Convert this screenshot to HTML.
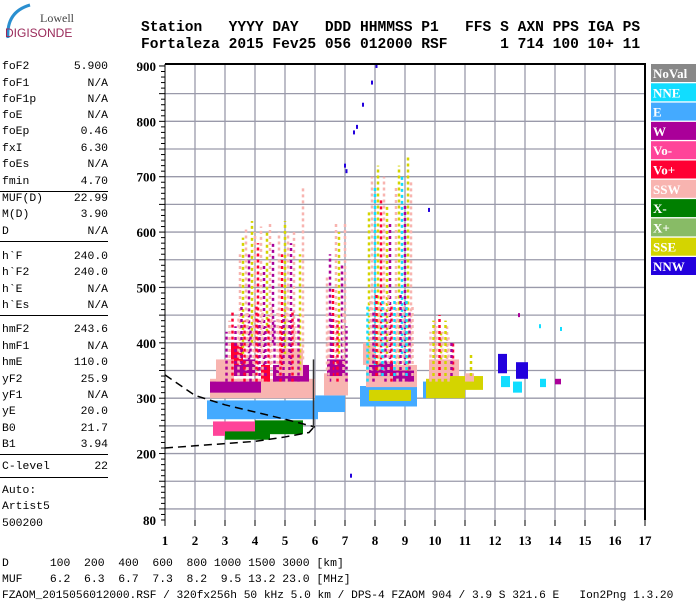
<!DOCTYPE html>
<html><head><meta charset="utf-8"><style>
html,body{margin:0;padding:0;background:#fff;}
body{width:700px;height:600px;position:relative;overflow:hidden;}
.mono{font-family:"Liberation Mono",monospace;font-size:11.4px;line-height:13px;color:#000;white-space:pre;position:absolute;}
.hdr{font-family:"Liberation Mono",monospace;font-weight:bold;font-size:14.6px;white-space:pre;position:absolute;left:141px;}
</style></head><body>
<svg width="140" height="60" style="position:absolute;left:0;top:0">
<path d="M8 38 Q6 12 30 5" stroke="#2a8fd0" stroke-width="3" fill="none"/>
<text x="40" y="22" font-family="Liberation Serif,serif" font-size="12" fill="#444">Lowell</text>
<text x="5" y="37" font-family="Liberation Sans,sans-serif" font-size="12" fill="#9a2a5a">DIGISONDE</text>
</svg>
<div class="hdr" style="top:20px">Station   YYYY DAY   DDD HHMMSS P1   FFS S AXN PPS IGA PS</div>
<div class="hdr" style="top:37px">Fortaleza 2015 Fev25 056 012000 RSF      1 714 100 10+ 11</div>
<div id="side"></div>
<div class="mono" style="left:2px;top:558px">D      100  200  400  600  800 1000 1500 3000 [km]</div>
<div class="mono" style="left:2px;top:574px">MUF    6.2  6.3  6.7  7.3  8.2  9.5 13.2 23.0 [MHz]</div>
<div class="mono" style="left:2px;top:590px;font-size:11.2px">FZAOM_2015056012000.RSF / 320fx256h 50 kHz 5.0 km / DPS-4 FZAOM 904 / 3.9 S 321.6 E   Ion2Png 1.3.20</div>
<svg id="chart" width="700" height="600" style="position:absolute;left:0;top:0"></svg>
<script>
const sideLabels=["foF2","foF1","foF1p","foE","foEp","fxI","foEs","fmin","MUF(D)","M(D)","D","h`F","h`F2","h`E","h`Es","hmF2","hmF1","hmE","yF2","yF1","yE","B0","B1","C-level"];
const sideValues=["5.900","N/A","N/A","N/A","0.46","6.30","N/A","4.70","22.99","3.90","N/A","240.0","240.0","N/A","N/A","243.6","N/A","110.0","25.9","N/A","20.0","21.7","3.94","22"];
const seriesNames=["NoVal","NNE","E","W","Vo-","Vo+","SSW","X-","X+","SSE","NNW"];
const seriesColors=["#888888","#11ddff","#44aaff","#aa0099","#ff4499","#ff0033","#f8b4b0","#007f00","#88bb66","#d4d400","#2200dd"];
const xTicks=[1,2,3,4,5,6,7,8,9,10,11,12,13,14,15,16,17];
const yTicks=[900,800,700,600,500,400,300,200,80];
// dense echo blocks
const blkF0=[2.4,6.0,7.5,9.6,2.6,4.0,3.0,2.5,6.3,7.7,9.8,2.5,3.0,4.6,6.4,7.8,8.6,9.7,10.5,7.8,3.2,4.2,12.2,12.6,12.1,12.7,11.0,13.5,14.0,2.7,4.8,7.6];
const blkF1=[6.1,7.0,9.4,10.6,4.0,5.6,4.5,6.0,7.1,9.4,10.8,4.2,4.0,5.8,7.0,8.6,9.3,11.0,11.6,9.2,3.6,4.5,12.5,12.9,12.4,13.1,11.3,13.7,14.2,3.3,5.6,8.0];
const blkH0=[262,275,285,300,232,235,225,300,305,320,320,310,340,330,340,340,330,300,315,295,360,330,320,310,345,335,330,320,325,330,340,360];
const blkH1=[296,305,322,330,258,260,240,335,345,360,370,330,370,360,370,365,350,335,340,315,400,360,340,330,380,365,345,335,335,370,390,400];
const blkS=[2,2,2,2,4,7,7,6,6,6,6,3,3,3,3,3,3,9,9,9,5,5,1,1,10,10,6,1,3,6,6,6];
// sparse echo columns
const colF=[3.5,3.6,3.7,3.8,3.9,4.0,4.1,4.2,4.3,4.4,4.5,4.6,4.8,4.9,5.0,5.1,5.2,5.3,5.5,5.6,6.4,6.5,6.6,6.7,6.8,6.9,7.0,7.8,7.9,8.0,8.1,8.2,8.3,8.4,8.5,8.7,8.8,8.9,9.0,9.1,9.2,10.0,10.2,10.4,10.6,11.2,
 3.05,3.15,3.25,3.35,3.45,3.55,3.65,3.75,3.85,3.95,4.05,4.15,4.25,4.35,4.45,4.55,4.65,4.75,4.85,4.95,5.05,5.15,5.25,5.35,5.45,6.45,6.55,6.75,6.95,7.05,7.75,7.85,7.95,8.05,8.15,8.25,8.35,8.45,8.55,8.65,8.75,8.85,8.95,9.05,9.15,9.25,9.85,9.95,10.05,10.15,10.25,10.35,10.45,10.55];
const colH0=[360,380,350,370,400,360,350,380,360,420,360,400,350,360,380,350,360,400,350,370,350,330,340,360,380,350,360,370,350,360,350,370,350,380,360,360,350,380,360,350,370,380,370,360,350,340,
 330,340,330,340,330,340,330,340,330,340,330,340,330,340,330,340,330,340,330,340,330,340,330,340,330,330,340,330,340,330,330,340,330,340,330,340,330,340,330,340,330,340,330,340,330,340,330,340,330,340,330,340,330,340];
const colH1=[560,590,610,560,620,600,580,610,540,600,620,580,600,560,620,600,580,600,560,680,520,560,500,620,600,540,620,640,700,680,720,660,700,650,620,680,720,700,650,740,690,440,420,430,400,380,
 420,440,460,430,450,470,440,460,430,450,470,440,460,430,450,470,440,460,430,450,470,440,460,430,450,430,450,440,460,430,470,480,460,490,470,480,460,490,470,480,460,490,470,480,460,470,420,440,430,450,420,440,410,400];
const colS=[6,9,6,3,9,6,5,6,3,9,6,3,6,5,9,6,3,6,9,6,6,3,5,6,9,3,6,9,6,1,9,5,6,9,3,6,9,1,3,9,6,6,9,6,5,9,
 3,6,5,3,6,3,5,6,3,6,5,3,6,3,5,6,3,6,5,3,6,3,5,6,3,6,3,5,6,3,1,6,3,5,6,1,3,6,5,1,6,3,6,1,3,6,6,9,6,5,6,9,6,3];
// isolated points
const ptF=[7.0,7.05,7.3,7.4,7.6,7.9,8.05,9.8,12.8,14.2,13.5,7.2];
const ptH=[720,710,780,790,830,870,900,640,450,425,430,160];
const ptS=[10,10,10,10,10,10,10,10,3,1,1,10];
// virtual height traces
const trUpF=[1,2,3,4,5,6];
const trUpH=[342,305,288,275,262,248];
const trLoF=[1,2,3,4,5,5.8,6.0];
const trLoH=[210,214,218,222,230,238,250];
const trVF=[5.95,5.95];
const trVH=[246,370];

const side=document.getElementById('side');
const rowY=[67,84,100,116,132,149,165,182,199,215,232,257,273,290,306,330,347,363,380,396,412,429,445,467];
const lineY=[191,241,315,454,477];
for(let i=0;i<sideLabels.length;i++){
 const a=document.createElement('div');a.className='mono';a.style.left='2px';a.style.top=(rowY[i]-6)+'px';a.textContent=sideLabels[i];
 
 
 side.appendChild(a);
 const b=document.createElement('div');b.className='mono';b.style.right=(700-108)+'px';b.style.top=(rowY[i]-6)+'px';b.textContent=sideValues[i];
 
 
 side.appendChild(b);
}
for(const y of lineY){const l=document.createElement('div');l.style.cssText='position:absolute;left:0;width:108px;height:1px;background:#000;top:'+y+'px';
 
 
 side.appendChild(l);}
["Auto:","Artist5","500200"].forEach((t,i)=>{const a=document.createElement('div');a.className='mono';a.style.left='2px';a.style.top=(491+16.3*i-6)+'px';a.textContent=t;
 
 
 side.appendChild(a);});

const NS='http://www.w3.org/2000/svg';
const svg=document.getElementById('chart');
const L=165,R=645,T=64,B=520;
const xs=f=>L+(f-1)*30;
const ys=h=>B-(h-80)*0.5537;
function el(tag,attrs){const e=document.createElementNS(NS,tag);for(const k in attrs)e.setAttribute(k,attrs[k]);svg.appendChild(e);return e;}
for(let f=2;f<=16;f++){const g=el('line',{x1:xs(f),x2:xs(f),y1:T,y2:B,stroke:'#9a9aaa','stroke-width':1.3});
 
 }
for(let h=100;h<=850;h+=50){const g=el('line',{x1:L,x2:R,y1:ys(h),y2:ys(h),stroke:'#9a9aaa','stroke-width':1.3});
 
 }
for(let i=0;i<blkF0.length;i++){const r=el('rect',{x:xs(blkF0[i]),y:ys(blkH1[i]),width:xs(blkF1[i])-xs(blkF0[i]),height:ys(blkH0[i])-ys(blkH1[i]),fill:seriesColors[blkS[i]]});
 
 }
for(let i=0;i<colF.length;i++){const c=el('line',{x1:xs(colF[i]),x2:xs(colF[i]),y1:ys(colH0[i]),y2:ys(colH1[i]),stroke:seriesColors[colS[i]],'stroke-width':2.5,'stroke-dasharray':'3 3'});
 
 }
for(let i=0;i<ptF.length;i++){const p=el('rect',{x:xs(ptF[i])-1,y:ys(ptH[i])-2,width:2,height:4,fill:seriesColors[ptS[i]]});
 
 }
function pathOf(F,H){return F.map((f,i)=>(i?'L':'M')+xs(f)+' '+ys(H[i])).join(' ');}
const p1=el('path',{d:pathOf(trUpF,trUpH),stroke:'#000',fill:'none','stroke-width':1.5,'stroke-dasharray':'8 5'});


const p2=el('path',{d:pathOf(trLoF,trLoH),stroke:'#000',fill:'none','stroke-width':1.5,'stroke-dasharray':'8 5'});


const p3=el('path',{d:pathOf(trVF,trVH),stroke:'#333',fill:'none','stroke-width':1.5});


const fr1=el('line',{x1:L,x2:R+1,y1:T,y2:T,stroke:'#000','stroke-width':2});


const fr2=el('line',{x1:R,x2:R,y1:T,y2:B,stroke:'#000','stroke-width':2});


const fr3=el('line',{x1:L,x2:L,y1:T,y2:B+6,stroke:'#000','stroke-width':1});


for(let h=80;h<=900;h+=10){const t=el('line',{x1:L-((h%50===0)?6:4),x2:L,y1:ys(h),y2:ys(h),stroke:'#000','stroke-width':1});
 
 }
for(const f of xTicks){const t=el('line',{x1:xs(f),x2:xs(f),y1:B,y2:B+6,stroke:'#000'});
 
 
 const lb=el('text',{x:xs(f),y:545,'text-anchor':'middle','font-family':'Liberation Serif,serif','font-weight':'bold','font-size':13});
 lb.textContent=f;
 
 }
for(const h of yTicks){const lb=el('text',{x:156,y:ys(h)+5,'text-anchor':'end','font-family':'Liberation Serif,serif','font-weight':'bold','font-size':13});
 lb.textContent=h;
 
 }
for(let i=0;i<seriesNames.length;i++){const y=64+i*19.3;
 const r=el('rect',{x:651,y:y,width:45,height:18,fill:seriesColors[i]});
 
 
 const t=el('text',{x:653,y:y+14,'font-family':'Liberation Serif,serif','font-weight':'bold','font-size':13,fill:'#fff'});
 t.textContent=seriesNames[i];
 
 }
</script>
</body></html>
